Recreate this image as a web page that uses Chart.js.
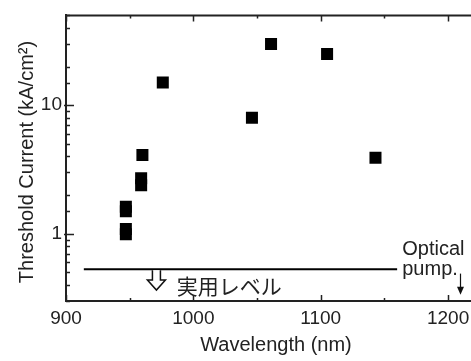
<!DOCTYPE html>
<html lang="ja">
<head>
    <meta charset="UTF-8">
    <title>Threshold Current vs Wavelength</title>
    <script src="https://cdnjs.cloudflare.com/ajax/libs/Chart.js/4.4.1/chart.umd.min.js"></script>
    <style>
        html, body {
            margin: 0;
            padding: 0;
            background: #fff;
            overflow: hidden;
        }
        .chart-container {
            position: relative;
            width: 471px;
            height: 361px;
        }
    </style>
</head>
<body>
    <div class="chart-container">
        <canvas id="thresholdChart"></canvas>
    </div>

    <script>
        // measured points (wavelength nm, threshold kA/cm2)
        const wavelengths = [947, 947, 947, 947, 959, 959, 960, 976, 1046, 1061, 1105, 1143];
        const thresholds = [0.99, 1.09, 1.5, 1.62, 2.39, 2.7, 4.1, 15, 8, 30, 25, 3.9];

        // practical level line
        const levelRange = [914, 1160];
        const levelValue = 0.53;
        const levelLabel = '実用レベル';
        const levelArrow = { x: 971, from: 0.53, to: 0.365 };

        // optical pumping marker
        const pumpLabel = ['Optical', 'pump.'];
        const pumpArrow = { x: 1209, from: 0.49, to: 0.335 };

        const xTickLabels = [900, 1000, 1100, 1200];
        const yTickLabels = [1, 10];

        const fontFamily = 'Arial, "Liberation Sans", sans-serif';
        const textColor = '#222';

        const points = wavelengths.map((w, i) => ({ x: w, y: thresholds[i] }));
        const levelLine = levelRange.map(w => ({ x: w, y: levelValue }));

        // inward ticks, frame top line, titles and annotations
        const decorPlugin = {
            id: 'decor',
            afterDraw(chart) {
                const ctx = chart.ctx;
                const area = chart.chartArea;
                const xs = chart.scales.x;
                const ys = chart.scales.y;

                ctx.save();
                ctx.strokeStyle = '#222';
                ctx.lineWidth = 2;
                ctx.beginPath();
                ctx.moveTo(area.left - 1, area.top);
                ctx.lineTo(area.right, area.top);
                ctx.stroke();

                ctx.lineWidth = 1.5;
                ctx.beginPath();
                xs.ticks.forEach(t => {
                    if (t.value % 50 !== 0) return;
                    const px = Math.round(xs.getPixelForValue(t.value)) + 0.5;
                    const len = t.value % 100 === 0 ? 6 : 3;
                    ctx.moveTo(px, area.bottom);
                    ctx.lineTo(px, area.bottom - len);
                    ctx.moveTo(px, area.top);
                    ctx.lineTo(px, area.top + len);
                });
                ys.ticks.forEach(t => {
                    const py = Math.round(ys.getPixelForValue(t.value)) + 0.5;
                    const major = yTickLabels.some(v => Math.abs(v - t.value) < 1e-6);
                    ctx.moveTo(area.left - (major ? 2 : 0), py);
                    ctx.lineTo(area.left + (major ? 8 : 4), py);
                });
                ctx.stroke();

                // practical level arrow (hollow)
                const ax = xs.getPixelForValue(levelArrow.x);
                const ay0 = ys.getPixelForValue(levelArrow.from);
                const ay1 = ys.getPixelForValue(levelArrow.to);
                const headY = ay1 - 10;
                ctx.fillStyle = '#fff';
                ctx.strokeStyle = '#111';
                ctx.lineWidth = 1.5;
                ctx.beginPath();
                ctx.moveTo(ax - 4, ay0 + 1);
                ctx.lineTo(ax - 4, headY);
                ctx.lineTo(ax - 9, headY);
                ctx.lineTo(ax, ay1);
                ctx.lineTo(ax + 9, headY);
                ctx.lineTo(ax + 4, headY);
                ctx.lineTo(ax + 4, ay0 + 1);
                ctx.fill();
                ctx.stroke();

                ctx.fillStyle = textColor;
                ctx.font = '21px "Noto Sans CJK JP", sans-serif';
                ctx.textAlign = 'left';
                ctx.textBaseline = 'middle';
                ctx.fillText(levelLabel, xs.getPixelForValue(987), ys.getPixelForValue(0.395));

                // optical pump arrow
                const px = Math.round(xs.getPixelForValue(pumpArrow.x)) + 0.5;
                const py0 = ys.getPixelForValue(pumpArrow.from);
                const py1 = ys.getPixelForValue(pumpArrow.to);
                ctx.strokeStyle = '#111';
                ctx.lineWidth = 1.2;
                ctx.beginPath();
                ctx.moveTo(px, py0);
                ctx.lineTo(px, py1 - 6);
                ctx.stroke();
                ctx.fillStyle = '#111';
                ctx.beginPath();
                ctx.moveTo(px - 3.5, py1 - 8);
                ctx.lineTo(px + 3.5, py1 - 8);
                ctx.lineTo(px, py1);
                ctx.closePath();
                ctx.fill();

                ctx.fillStyle = textColor;
                ctx.font = '20px ' + fontFamily;
                ctx.fillText(pumpLabel[0], xs.getPixelForValue(1164), ys.getPixelForValue(0.757));
                ctx.fillText(pumpLabel[1], xs.getPixelForValue(1164), ys.getPixelForValue(0.524));

                // axis titles
                ctx.textAlign = 'center';
                ctx.fillText('Wavelength (nm)', 276, 345);
                ctx.translate(27, 162);
                ctx.rotate(-Math.PI / 2);
                ctx.fillText('Threshold Current (kA/cm²)', 0, 0);
                ctx.restore();
            }
        };

        const ctx = document.getElementById('thresholdChart').getContext('2d');
        new Chart(ctx, {
            type: 'scatter',
            data: {
                datasets: [
                    {
                        label: 'threshold',
                        data: points,
                        pointStyle: 'rect',
                        pointRadius: 8.5,
                        pointBackgroundColor: '#000',
                        pointBorderColor: '#000',
                        pointBorderWidth: 0
                    },
                    {
                        label: 'level',
                        data: levelLine,
                        showLine: true,
                        borderColor: '#000',
                        borderWidth: 2,
                        pointRadius: 0
                    }
                ]
            },
            options: {
                responsive: true,
                maintainAspectRatio: false,
                animation: false,
                layout: {
                    autoPadding: false,
                    padding: { top: 9, right: 0, left: 0, bottom: 0 }
                },
                plugins: {
                    legend: { display: false },
                    tooltip: { enabled: false }
                },
                scales: {
                    x: {
                        type: 'linear',
                        min: 900,
                        max: 1218,
                        grid: { display: false, drawTicks: false },
                        border: { display: true, color: '#222', width: 2 },
                        afterFit(scale) {
                            scale.height = 60;
                            scale.paddingRight = 0;
                        },
                        ticks: {
                            stepSize: 50,
                            includeBounds: false,
                            padding: 6,
                            color: textColor,
                            font: { family: fontFamily, size: 19 },
                            maxRotation: 0,
                            autoSkip: false,
                            callback: v => xTickLabels.includes(v) ? String(v) : ''
                        }
                    },
                    y: {
                        type: 'logarithmic',
                        min: 0.3,
                        max: 50,
                        grid: { display: false, drawTicks: false },
                        border: { display: true, color: '#222', width: 2 },
                        afterFit(scale) { scale.width = 66; },
                        ticks: {
                            padding: 4,
                            color: textColor,
                            font: { family: fontFamily, size: 19 },
                            autoSkip: false,
                            callback: v => yTickLabels.some(t => Math.abs(t - v) < 1e-6) ? String(v) : ''
                        }
                    }
                }
            },
            plugins: [decorPlugin]
        });
    </script>
</body>
</html>
